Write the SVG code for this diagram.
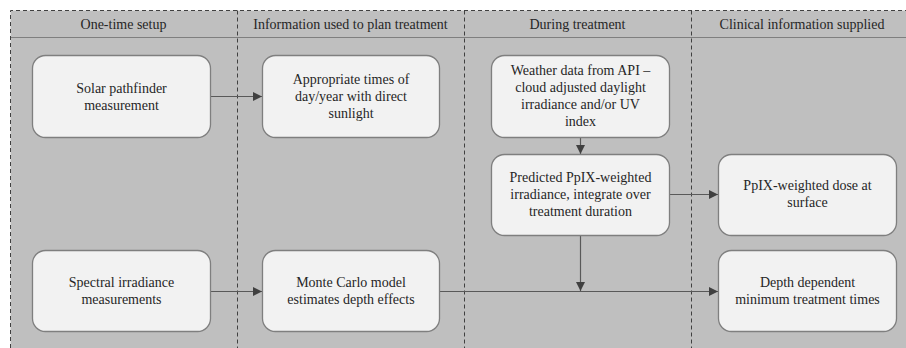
<svg xmlns="http://www.w3.org/2000/svg" width="906" height="348" viewBox="0 0 906 348">
<style>
.bg{fill:#bfbfbf}
.dash{stroke:#404040;stroke-width:1;stroke-dasharray:4,3;fill:none}
.sep{stroke:#7f7f7f;stroke-width:1.2}
.box{fill:#f2f2f2;stroke:#7f7f7f;stroke-width:1.3}
.conn{stroke:#595959;stroke-width:1.2;fill:none}
</style>
<defs>
<marker id="ah" viewBox="0 0 10 10" refX="10" refY="5" markerWidth="9" markerHeight="9" markerUnits="userSpaceOnUse" orient="auto">
<path d="M0,0 L10,5 L0,10 z" fill="#404040"/>
</marker>
</defs>
<rect class="bg" x="10.5" y="10.5" width="900" height="340"/>
<line class="sep" x1="10.5" y1="37.5" x2="906" y2="37.5"/>
<path class="dash" d="M10.5,348 V10.5 H906"/>
<line class="dash" x1="237.5" y1="10.5" x2="237.5" y2="348"/>
<line class="dash" x1="464.5" y1="10.5" x2="464.5" y2="348"/>
<line class="dash" x1="691.5" y1="10.5" x2="691.5" y2="348"/>
<g font-family="'Liberation Serif', 'Times New Roman', serif" font-size="14" fill="#262626" text-anchor="middle">
<g id="headers">
<text x="123.5" y="29">One-time setup</text>
<text x="350.5" y="29">Information used to plan treatment</text>
<text x="577.5" y="29">During treatment</text>
<text x="802" y="29">Clinical information supplied</text>
</g>
<g id="connectors">
<line class="conn" x1="210" y1="96.5" x2="262" y2="96.5" marker-end="url(#ah)"/>
<line class="conn" x1="580.5" y1="137" x2="580.5" y2="154" marker-end="url(#ah)"/>
<line class="conn" x1="669" y1="194.5" x2="718" y2="194.5" marker-end="url(#ah)"/>
<line class="conn" x1="210" y1="291.5" x2="262" y2="291.5" marker-end="url(#ah)"/>
<line class="conn" x1="439" y1="291.5" x2="718" y2="291.5" marker-end="url(#ah)"/>
<line class="conn" x1="580.5" y1="235" x2="580.5" y2="291" marker-end="url(#ah)"/>
</g>
<g id="solar"><rect class="box" x="32.5" y="55.5" width="178" height="82" rx="13"/>
<text x="121.5" y="92.5">Solar pathfinder</text><text x="121.5" y="109.5">measurement</text></g>
<g id="appropriate"><rect class="box" x="262.5" y="55.5" width="177" height="82" rx="13"/>
<text x="351" y="83.5">Appropriate times of</text><text x="351" y="100.5">day/year with direct</text><text x="351" y="117.5">sunlight</text></g>
<g id="weather"><rect class="box" x="491.5" y="55.5" width="178" height="82" rx="13"/>
<text x="580.5" y="75">Weather data from API –</text><text x="580.5" y="92">cloud adjusted daylight</text><text x="580.5" y="109">irradiance and/or UV</text><text x="580.5" y="126">index</text></g>
<g id="predicted"><rect class="box" x="491.5" y="154.5" width="178" height="81" rx="13"/>
<text x="580.5" y="181.5">Predicted PpIX-weighted</text><text x="580.5" y="198.5">irradiance, integrate over</text><text x="580.5" y="215.5">treatment duration</text></g>
<g id="dose"><rect class="box" x="718.5" y="154.5" width="178" height="81" rx="13"/>
<text x="807.5" y="190">PpIX-weighted dose at</text><text x="807.5" y="207">surface</text></g>
<g id="spectral"><rect class="box" x="32.5" y="250.5" width="178" height="81" rx="13"/>
<text x="121.5" y="287">Spectral irradiance</text><text x="121.5" y="304">measurements</text></g>
<g id="montecarlo"><rect class="box" x="262.5" y="250.5" width="177" height="81" rx="13"/>
<text x="351" y="287">Monte Carlo model</text><text x="351" y="304">estimates depth effects</text></g>
<g id="depth"><rect class="box" x="718.5" y="250.5" width="178" height="81" rx="13"/>
<text x="807.5" y="287">Depth dependent</text><text x="807.5" y="304">minimum treatment times</text></g>
</g>
</svg>
